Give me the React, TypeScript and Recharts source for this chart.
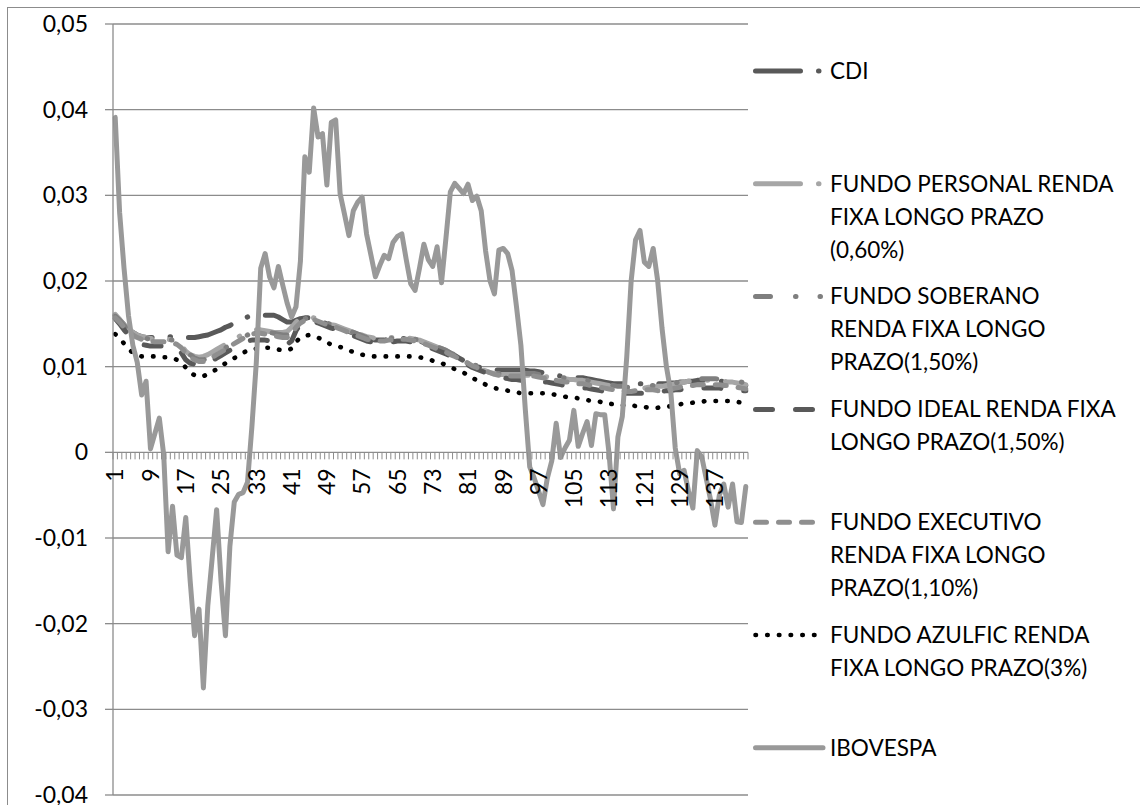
import React from 'react';
import { LineChart, Line, XAxis, YAxis, CartesianGrid } from 'recharts';

// Periods 1..144 on the category axis; only every eighth one is labelled.
const PERIODS: string[] = Array.from({ length: 144 }, (_, i) => String(i + 1));
const X_TICK_LABELS = ['1', '9', '17', '25', '33', '41', '49', '57', '65', '73', '81', '89', '97', '105', '113', '121', '129', '137'];

const Y_TICKS = [-0.04, -0.03, -0.02, -0.01, 0, 0.01, 0.02, 0.03, 0.04, 0.05];
const Y_TICK_LABELS = ['-0,04', '-0,03', '-0,02', '-0,01', '0', '0,01', '0,02', '0,03', '0,04', '0,05'];

const CDI = [
  0.0160, 0.0155, 0.0149, 0.0144, 0.0140, 0.0137, 0.0135, 0.0134, 0.0134, 0.0134,
  0.0134, 0.0134, 0.0135, 0.0135, 0.0135, 0.0135, 0.0134, 0.0134, 0.0134, 0.0135,
  0.0136, 0.0137, 0.0139, 0.0141, 0.0143, 0.0146, 0.0148, 0.0151, 0.0153, 0.0156,
  0.0158, 0.0160, 0.0160, 0.0160, 0.0160, 0.0160, 0.0160, 0.0158, 0.0155, 0.0152,
  0.0152, 0.0154, 0.0156, 0.0157, 0.0157, 0.0156, 0.0154, 0.0152, 0.0150, 0.0148,
  0.0147, 0.0145, 0.0143, 0.0141, 0.0139, 0.0137, 0.0135, 0.0133, 0.0132, 0.0131,
  0.0131, 0.0131, 0.0132, 0.0132, 0.0133, 0.0133, 0.0133, 0.0132, 0.0131, 0.0130,
  0.0128, 0.0126, 0.0124, 0.0122, 0.0120, 0.0118, 0.0115, 0.0113, 0.0110, 0.0107,
  0.0105, 0.0102, 0.0100, 0.0099, 0.0098, 0.0097, 0.0096, 0.0096, 0.0096, 0.0096,
  0.0096, 0.0096, 0.0096, 0.0096, 0.0095, 0.0095, 0.0094, 0.0093, 0.0092, 0.0091,
  0.0090, 0.0089, 0.0089, 0.0088, 0.0088, 0.0087, 0.0087, 0.0086, 0.0085, 0.0084,
  0.0083, 0.0082, 0.0081, 0.0080, 0.0080, 0.0080, 0.0080, 0.0080, 0.0080, 0.0080,
  0.0080, 0.0080, 0.0080, 0.0080, 0.0080, 0.0080, 0.0081, 0.0081, 0.0082, 0.0082,
  0.0083, 0.0083, 0.0084, 0.0084, 0.0084, 0.0084, 0.0084, 0.0083, 0.0083, 0.0082,
  0.0081, 0.0080, 0.0079, 0.0078,
];

const PERSONAL = [
  0.0161, 0.0155, 0.0149, 0.0144, 0.0140, 0.0137, 0.0135, 0.0134, 0.0133, 0.0132,
  0.0132, 0.0132, 0.0132, 0.0131, 0.0129, 0.0125, 0.0118, 0.0114, 0.0112, 0.0111,
  0.0112, 0.0114, 0.0117, 0.0120, 0.0123, 0.0126, 0.0129, 0.0132, 0.0135, 0.0138,
  0.0140, 0.0142, 0.0143, 0.0143, 0.0142, 0.0141, 0.0140, 0.0140, 0.0140, 0.0141,
  0.0146, 0.0152, 0.0156, 0.0158, 0.0158, 0.0157, 0.0155, 0.0153, 0.0151, 0.0149,
  0.0148, 0.0146, 0.0144, 0.0142, 0.0140, 0.0138, 0.0137, 0.0135, 0.0134, 0.0133,
  0.0133, 0.0133, 0.0134, 0.0134, 0.0135, 0.0135, 0.0134, 0.0133, 0.0132, 0.0131,
  0.0129, 0.0127, 0.0125, 0.0123, 0.0121, 0.0119, 0.0116, 0.0113, 0.0110, 0.0107,
  0.0104, 0.0101, 0.0099, 0.0097, 0.0095, 0.0093, 0.0092, 0.0091, 0.0091, 0.0091,
  0.0091, 0.0091, 0.0091, 0.0090, 0.0090, 0.0090, 0.0089, 0.0089, 0.0088, 0.0087,
  0.0087, 0.0086, 0.0086, 0.0085, 0.0085, 0.0084, 0.0084, 0.0083, 0.0082, 0.0081,
  0.0080, 0.0079, 0.0078, 0.0077, 0.0076, 0.0075, 0.0074, 0.0074, 0.0074, 0.0075,
  0.0075, 0.0076, 0.0076, 0.0077, 0.0077, 0.0078, 0.0079, 0.0080, 0.0081, 0.0082,
  0.0083, 0.0083, 0.0084, 0.0084, 0.0084, 0.0084, 0.0084, 0.0083, 0.0083, 0.0082,
  0.0082, 0.0081, 0.0080, 0.0079,
];

const SOBERANO = [
  0.0159, 0.0154, 0.0148, 0.0143, 0.0139, 0.0136, 0.0134, 0.0133, 0.0132, 0.0131,
  0.0131, 0.0131, 0.0131, 0.0131, 0.0130, 0.0127, 0.0120, 0.0114, 0.0110, 0.0108,
  0.0108, 0.0110, 0.0113, 0.0116, 0.0119, 0.0122, 0.0125, 0.0128, 0.0131, 0.0134,
  0.0137, 0.0139, 0.0140, 0.0141, 0.0141, 0.0140, 0.0139, 0.0138, 0.0137, 0.0137,
  0.0141, 0.0148, 0.0153, 0.0156, 0.0157, 0.0157, 0.0155, 0.0153, 0.0151, 0.0149,
  0.0148, 0.0146, 0.0144, 0.0142, 0.0140, 0.0138, 0.0136, 0.0134, 0.0133, 0.0132,
  0.0132, 0.0132, 0.0133, 0.0133, 0.0134, 0.0134, 0.0134, 0.0133, 0.0132, 0.0131,
  0.0129, 0.0127, 0.0125, 0.0123, 0.0121, 0.0119, 0.0116, 0.0114, 0.0111, 0.0108,
  0.0106, 0.0103, 0.0101, 0.0099, 0.0097, 0.0095, 0.0093, 0.0092, 0.0092, 0.0092,
  0.0092, 0.0092, 0.0092, 0.0092, 0.0092, 0.0092, 0.0091, 0.0090, 0.0089, 0.0088,
  0.0088, 0.0087, 0.0087, 0.0086, 0.0086, 0.0085, 0.0085, 0.0084, 0.0083, 0.0082,
  0.0081, 0.0080, 0.0079, 0.0078, 0.0077, 0.0077, 0.0076, 0.0076, 0.0077, 0.0077,
  0.0078, 0.0078, 0.0078, 0.0078, 0.0078, 0.0079, 0.0080, 0.0081, 0.0082, 0.0083,
  0.0084, 0.0085, 0.0085, 0.0086, 0.0086, 0.0086, 0.0086, 0.0085, 0.0085, 0.0084,
  0.0084, 0.0083, 0.0082, 0.0081,
];

const IDEAL = [
  0.0156, 0.0150, 0.0143, 0.0137, 0.0132, 0.0128, 0.0126, 0.0125, 0.0124, 0.0124,
  0.0124, 0.0124, 0.0124, 0.0124, 0.0122, 0.0116, 0.0108, 0.0104, 0.0103, 0.0103,
  0.0103, 0.0104, 0.0107, 0.0110, 0.0113, 0.0116, 0.0119, 0.0122, 0.0125, 0.0128,
  0.0130, 0.0131, 0.0131, 0.0131, 0.0131, 0.0130, 0.0129, 0.0127, 0.0126, 0.0126,
  0.0130, 0.0142, 0.0150, 0.0153, 0.0154, 0.0153, 0.0151, 0.0149, 0.0147, 0.0145,
  0.0144, 0.0142, 0.0140, 0.0138, 0.0136, 0.0134, 0.0132, 0.0130, 0.0129, 0.0128,
  0.0128, 0.0128, 0.0129, 0.0129, 0.0130, 0.0130, 0.0130, 0.0129, 0.0128, 0.0127,
  0.0125, 0.0123, 0.0121, 0.0119, 0.0117, 0.0115, 0.0112, 0.0110, 0.0107, 0.0104,
  0.0102, 0.0099, 0.0097, 0.0095, 0.0093, 0.0091, 0.0089, 0.0088, 0.0087, 0.0086,
  0.0085, 0.0085, 0.0084, 0.0084, 0.0083, 0.0083, 0.0082, 0.0082, 0.0082, 0.0081,
  0.0080, 0.0079, 0.0078, 0.0077, 0.0077, 0.0076, 0.0075, 0.0075, 0.0074, 0.0073,
  0.0072, 0.0071, 0.0070, 0.0069, 0.0069, 0.0069, 0.0069, 0.0069, 0.0069, 0.0069,
  0.0069, 0.0070, 0.0070, 0.0071, 0.0071, 0.0072, 0.0072, 0.0073, 0.0073, 0.0074,
  0.0074, 0.0075, 0.0075, 0.0075, 0.0075, 0.0075, 0.0075, 0.0075, 0.0074, 0.0074,
  0.0073, 0.0073, 0.0072, 0.0072,
];

const EXECUTIVO = [
  0.0157, 0.0152, 0.0146, 0.0141, 0.0137, 0.0134, 0.0132, 0.0131, 0.0130, 0.0129,
  0.0129, 0.0129, 0.0129, 0.0128, 0.0126, 0.0122, 0.0116, 0.0111, 0.0108, 0.0106,
  0.0106, 0.0108, 0.0111, 0.0114, 0.0117, 0.0120, 0.0124, 0.0127, 0.0130, 0.0133,
  0.0136, 0.0138, 0.0139, 0.0139, 0.0138, 0.0137, 0.0136, 0.0135, 0.0134, 0.0134,
  0.0138, 0.0146, 0.0151, 0.0154, 0.0155, 0.0155, 0.0153, 0.0151, 0.0149, 0.0147,
  0.0146, 0.0144, 0.0142, 0.0140, 0.0138, 0.0136, 0.0134, 0.0132, 0.0131, 0.0130,
  0.0130, 0.0130, 0.0131, 0.0131, 0.0132, 0.0132, 0.0132, 0.0131, 0.0130, 0.0129,
  0.0127, 0.0125, 0.0123, 0.0121, 0.0119, 0.0117, 0.0114, 0.0112, 0.0109, 0.0106,
  0.0104, 0.0101, 0.0099, 0.0097, 0.0095, 0.0093, 0.0091, 0.0090, 0.0089, 0.0089,
  0.0089, 0.0089, 0.0089, 0.0089, 0.0089, 0.0089, 0.0088, 0.0087, 0.0086, 0.0085,
  0.0084, 0.0083, 0.0082, 0.0082, 0.0081, 0.0080, 0.0080, 0.0079, 0.0078, 0.0077,
  0.0076, 0.0075, 0.0074, 0.0073, 0.0072, 0.0072, 0.0071, 0.0071, 0.0072, 0.0072,
  0.0073, 0.0073, 0.0073, 0.0072, 0.0072, 0.0073, 0.0074, 0.0075, 0.0076, 0.0077,
  0.0078, 0.0078, 0.0079, 0.0079, 0.0079, 0.0079, 0.0079, 0.0079, 0.0078, 0.0078,
  0.0077, 0.0076, 0.0075, 0.0074,
];

const AZULFIC = [
  0.0138, 0.0133, 0.0127, 0.0121, 0.0116, 0.0113, 0.0112, 0.0112, 0.0112, 0.0112,
  0.0111, 0.0111, 0.0111, 0.0110, 0.0108, 0.0105, 0.0099, 0.0093, 0.0090, 0.0088,
  0.0089, 0.0091, 0.0094, 0.0097, 0.0100, 0.0104, 0.0107, 0.0110, 0.0113, 0.0116,
  0.0119, 0.0120, 0.0121, 0.0122, 0.0122, 0.0122, 0.0121, 0.0120, 0.0119, 0.0119,
  0.0121, 0.0129, 0.0134, 0.0136, 0.0137, 0.0136, 0.0134, 0.0131, 0.0128, 0.0126,
  0.0125, 0.0123, 0.0121, 0.0119, 0.0117, 0.0116, 0.0114, 0.0113, 0.0112, 0.0112,
  0.0112, 0.0112, 0.0112, 0.0112, 0.0112, 0.0112, 0.0112, 0.0112, 0.0111, 0.0111,
  0.0110, 0.0109, 0.0107, 0.0105, 0.0104, 0.0102, 0.0100, 0.0097, 0.0095, 0.0093,
  0.0090, 0.0087, 0.0084, 0.0082, 0.0079, 0.0077, 0.0075, 0.0074, 0.0073, 0.0072,
  0.0071, 0.0070, 0.0069, 0.0069, 0.0069, 0.0069, 0.0069, 0.0069, 0.0068, 0.0068,
  0.0067, 0.0066, 0.0065, 0.0064, 0.0064, 0.0063, 0.0062, 0.0061, 0.0060, 0.0060,
  0.0059, 0.0057, 0.0057, 0.0056, 0.0056, 0.0055, 0.0055, 0.0055, 0.0054, 0.0053,
  0.0053, 0.0052, 0.0052, 0.0052, 0.0053, 0.0053, 0.0054, 0.0055, 0.0056, 0.0057,
  0.0057, 0.0058, 0.0059, 0.0059, 0.0060, 0.0060, 0.0060, 0.0060, 0.0060, 0.0060,
  0.0059, 0.0059, 0.0058, 0.0058,
];

const IBOVESPA = [
  0.0391, 0.0280, 0.0215, 0.0160, 0.0125, 0.0105, 0.0067, 0.0083, 0.0004, 0.0022,
  0.0040, -0.0003, -0.0116, -0.0063, -0.0120, -0.0123, -0.0076, -0.0150, -0.0214, -0.0183,
  -0.0275, -0.0179, -0.0123, -0.0067, -0.0150, -0.0214, -0.0110, -0.0058, -0.0049, -0.0047,
  -0.0035, 0.0030, 0.0105, 0.0215, 0.0232, 0.0205, 0.0192, 0.0217, 0.0195, 0.0174,
  0.0158, 0.0170, 0.0223, 0.0345, 0.0327, 0.0402, 0.0368, 0.0372, 0.0312, 0.0385,
  0.0388, 0.0302, 0.0278, 0.0253, 0.0282, 0.0292, 0.0298, 0.0255, 0.0230, 0.0205,
  0.0218, 0.0230, 0.0226, 0.0245, 0.0252, 0.0255, 0.0225, 0.0197, 0.0189, 0.0215,
  0.0243, 0.0225, 0.0217, 0.0240, 0.0198, 0.0250, 0.0304, 0.0314, 0.0308, 0.0302,
  0.0313, 0.0294, 0.0299, 0.0282, 0.0235, 0.0200, 0.0185, 0.0236, 0.0238, 0.0232,
  0.0212, 0.0170, 0.0125, 0.0050, -0.0017, -0.0030, -0.0045, -0.0061, -0.0030, -0.0010,
  0.0034, -0.0006, 0.0005, 0.0014, 0.0049, 0.0007, 0.0022, 0.0036, 0.0008, 0.0045,
  0.0044, 0.0044, -0.0002, -0.0066, 0.0018, 0.0042, 0.0111, 0.0200, 0.0248, 0.0259,
  0.0222, 0.0217, 0.0238, 0.0201, 0.0145, 0.0100, 0.0070, 0.0005, -0.0025, -0.0021,
  -0.0045, -0.0065, 0.0002, -0.0005, -0.0030, -0.0055, -0.0085, -0.0050, -0.0037, -0.0064,
  -0.0037, -0.0081, -0.0082, -0.0040,
];

// Line styling and legend text for each series (drawing order = list order).
const SERIES = [
  { key: 'cdi', values: CDI, color: '#595959', width: 5, dash: '45 18 0.5 18', label: ['CDI'] },
  { key: 'personal', values: PERSONAL, color: '#a6a6a6', width: 5, dash: '45 18 0.5 18', label: ['FUNDO PERSONAL RENDA', 'FIXA LONGO PRAZO', '(0,60%)'] },
  { key: 'soberano', values: SOBERANO, color: '#7f7f7f', width: 5, dash: '15 25 0.5 24 0.5 25', label: ['FUNDO SOBERANO', 'RENDA FIXA LONGO', 'PRAZO(1,50%)'] },
  { key: 'ideal', values: IDEAL, color: '#595959', width: 5, dash: '17 23', label: ['FUNDO IDEAL RENDA FIXA', 'LONGO PRAZO(1,50%)'] },
  { key: 'executivo', values: EXECUTIVO, color: '#8f8f8f', width: 5, dash: '11 12', label: ['FUNDO EXECUTIVO', 'RENDA FIXA LONGO', 'PRAZO(1,10%)'] },
  { key: 'azulfic', values: AZULFIC, color: '#000000', width: 4.6, dash: '0.5 11.2', label: ['FUNDO AZULFIC RENDA', 'FIXA LONGO PRAZO(3%)'] },
  { key: 'ibovespa', values: IBOVESPA, color: '#999999', width: 5, dash: undefined as string | undefined, label: ['IBOVESPA'] },
];

const ROWS = PERIODS.map((period, i) => {
  const row: Record<string, string | number> = { period };
  SERIES.forEach((s) => {
    row[s.key] = s.values[i];
  });
  return row;
});

// Layout
const CHART_W = 1140;
const CHART_H = 805;
const X_AXIS_H = 1;
const MARGIN = { top: 24, right: 392, bottom: 10 - X_AXIS_H, left: 0 };
const Y_AXIS_W = 113;
const PLOT_W = CHART_W - MARGIN.left - MARGIN.right - Y_AXIS_W;
const PLOT_H = CHART_H - MARGIN.top - MARGIN.bottom - X_AXIS_H;
const Y_MIN = -0.04;
const Y_MAX = 0.05;
const ZERO_Y = MARGIN.top + PLOT_H * (Y_MAX / (Y_MAX - Y_MIN));
const STEP = PLOT_W / PERIODS.length;

const AXIS_COLOR = '#8c8c8c';
const FONT = 'Lato, "Open Sans", sans-serif';

// Category axis drawn along the zero line: a tick between every period,
// rotated labels every eighth period.
const CategoryTick = (props: any) => {
  const { payload, index } = props;
  const cx = Number.isFinite(props.x) ? props.x : payload?.coordinate;
  const label = String(payload?.value ?? '');
  const isLast = index === PERIODS.length - 1;
  const ly = ZERO_Y + 16;
  if (!Number.isFinite(cx)) return <g />;
  return (
    <g>
      <line x1={cx - STEP / 2} x2={cx - STEP / 2} y1={ZERO_Y} y2={ZERO_Y + 7} stroke={AXIS_COLOR} strokeWidth={1} />
      {isLast && (
        <line x1={cx + STEP / 2} x2={cx + STEP / 2} y1={ZERO_Y} y2={ZERO_Y + 7} stroke={AXIS_COLOR} strokeWidth={1} />
      )}
      {X_TICK_LABELS.includes(label) && (
        <text
          x={cx}
          y={ly}
          dy="0.36em"
          textAnchor="end"
          transform={`rotate(-90 ${cx} ${ly})`}
          fontSize={23}
          fontFamily={FONT}
          fill="#000"
        >
          {label}
        </text>
      )}
    </g>
  );
};

const formatY = (v: number) => {
  const idx = Y_TICKS.findIndex((t) => Math.abs(t - v) < 1e-9);
  return idx >= 0 ? Y_TICK_LABELS[idx] : String(v);
};

// Legend layout
const LEGEND_TOP = 71;
const LEGEND_STEP = 112.8;
const LEGEND_LINE = 33;
const LEGEND_SAMPLE_X1 = 755.5;
const LEGEND_SAMPLE_X2 = 821;
const LEGEND_TEXT_X = 830;

const LegendPanel = () => (
  <svg width={CHART_W} height={CHART_H} style={{ position: 'absolute', left: 0, top: 0, pointerEvents: 'none' }}>
    {SERIES.map((s, i) => {
      const y = LEGEND_TOP + i * LEGEND_STEP;
      return (
        <g key={s.key}>
          <line
            x1={LEGEND_SAMPLE_X1}
            x2={s.key === 'ibovespa' ? LEGEND_SAMPLE_X2 + 2 : LEGEND_SAMPLE_X2}
            y1={y}
            y2={y}
            stroke={s.color}
            strokeWidth={s.width}
            strokeDasharray={s.dash}
            strokeLinecap="round"
          />
          {s.label.map((line, j) => (
            <text
              key={j}
              x={LEGEND_TEXT_X}
              y={y + j * LEGEND_LINE}
              dy="0.35em"
              fontSize={22.5}
              fontFamily={FONT}
              fill="#000"
            >
              {line}
            </text>
          ))}
        </g>
      );
    })}
  </svg>
);

export default function App() {
  return (
    <div
      style={{
        position: 'fixed',
        left: 0,
        top: 0,
        width: CHART_W,
        height: CHART_H,
        overflow: 'hidden',
        background: '#fff',
        fontFamily: FONT,
      }}
    >
      <div
        style={{
          position: 'absolute',
          left: 7,
          top: 7,
          width: CHART_W + 40,
          height: CHART_H + 40,
          border: `1.5px solid ${AXIS_COLOR}`,
          boxSizing: 'border-box',
        }}
      />
      <div style={{ position: 'absolute', left: 0, top: 0 }}>
        <LineChart width={CHART_W} height={CHART_H} data={ROWS} margin={MARGIN}>
          <CartesianGrid vertical={false} horizontal stroke={AXIS_COLOR} strokeWidth={1.3} />
          <XAxis
            dataKey="period"
            type="category"
            scale="point"
            padding={{ left: STEP / 2, right: STEP / 2 }}
            height={X_AXIS_H}
            interval={0}
            minTickGap={0}
            axisLine={false}
            tickLine={false}
            tick={(p: any) => <CategoryTick {...p} />}
          />
          <YAxis
            type="number"
            width={Y_AXIS_W}
            domain={[Y_MIN, Y_MAX]}
            ticks={Y_TICKS}
            interval={0}
            allowDataOverflow
            tickFormatter={formatY}
            tick={{ fill: '#000', fontSize: 23, fontFamily: FONT }}
            axisLine={{ stroke: AXIS_COLOR, strokeWidth: 1.3 }}
            tickLine={{ stroke: AXIS_COLOR, strokeWidth: 1.3 }}
            tickSize={8}
            tickMargin={17}
          />
          {SERIES.map((s) => (
            <Line
              key={s.key}
              type="linear"
              dataKey={s.key}
              stroke={s.color}
              strokeWidth={s.width}
              strokeDasharray={s.dash}
              strokeLinecap="round"
              strokeLinejoin="round"
              dot={false}
              activeDot={false}
              isAnimationActive={false}
            />
          ))}
        </LineChart>
      </div>
      <LegendPanel />
    </div>
  );
}
